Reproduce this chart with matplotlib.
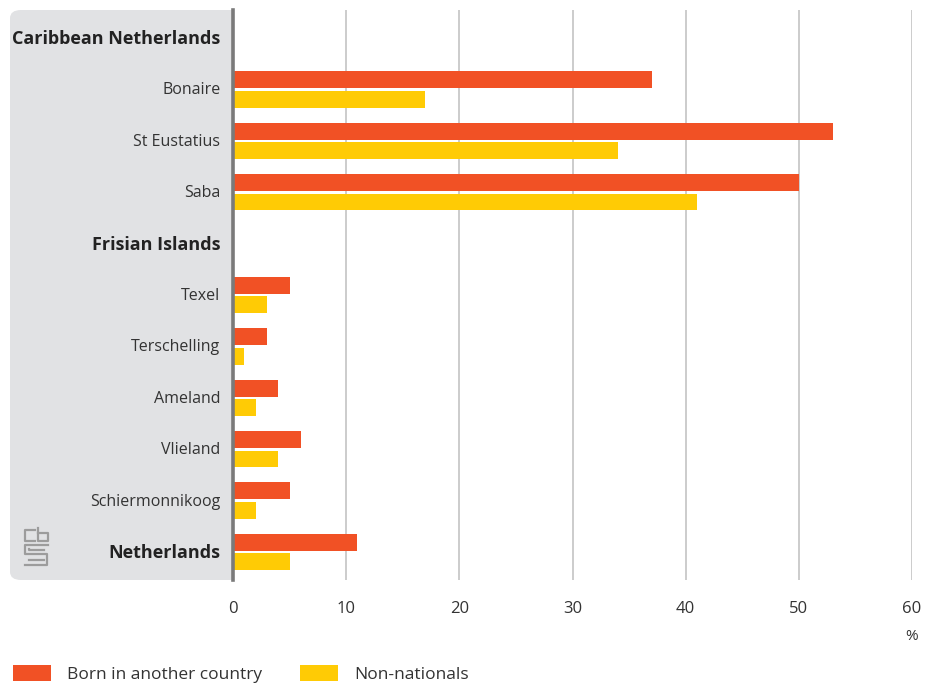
import numpy as np
import matplotlib
matplotlib.use('Agg')
import matplotlib.pyplot as plt
from matplotlib.patches import FancyBboxPatch, Rectangle
from matplotlib.lines import Line2D

plt.rcParams['font.family'] = ['Open Sans', 'DejaVu Sans']

# donnees : part (%) nes a l'etranger / non-nationaux
regions = ['Caribbean Netherlands', 'Bonaire', 'St Eustatius', 'Saba',
           'Frisian Islands', 'Texel', 'Terschelling', 'Ameland', 'Vlieland',
           'Schiermonnikoog', 'Netherlands']
groupes = ['Caribbean Netherlands', 'Frisian Islands', 'Netherlands']
born_abroad = [np.nan, 37, 53, 50, np.nan, 5, 3, 4, 6, 5, 11]
non_nationals = [np.nan, 17, 34, 41, np.nan, 3, 1, 2, 4, 2, 5]
xticks = [0, 10, 20, 30, 40, 50, 60]

rouge = '#F15125'
jaune = '#FFCB05'
gris_panneau = '#E1E2E4'

W, H = 925, 685
fig = plt.figure(figsize=(W / 100, H / 100), dpi=100)

def fx(px):
    return px / W

def fy(py):
    return 1 - py / H

# axe principal : x de 233 a 912 px, y de 10 a 580 px
ax = fig.add_axes([fx(233), fy(580), fx(912) - fx(233), fy(10) - fy(580)])
ax.set_facecolor('none')

# panneau gris derriere les etiquettes
fig.patches.append(FancyBboxPatch((fx(10), fy(580)), fx(233) - fx(10), fy(10) - fy(580),
                                  boxstyle='round,pad=0,rounding_size=0.012',
                                  transform=fig.transFigure, facecolor=gris_panneau,
                                  edgecolor='none', zorder=-2))
fig.patches.append(Rectangle((fx(200), fy(580)), fx(233) - fx(200), fy(10) - fy(580),
                             transform=fig.transFigure, facecolor=gris_panneau,
                             edgecolor='none', zorder=-2))

y = np.arange(len(regions))
h = 0.33
ax.barh(y - 0.17, born_abroad, height=h, color=rouge, label='Born in another country', zorder=3)
ax.barh(y + 0.21, non_nationals, height=h, color=jaune, label='Non-nationals', zorder=3)

ax.set_xlim(0, 60)
ax.set_ylim((580 - 37) / 51.4, (10 - 37) / 51.4)
ax.set_xticks(xticks)
ax.set_yticks(y)
ax.set_yticklabels(regions)
for lab in ax.get_yticklabels():
    lab.set_color('#333333')
    if lab.get_text() in groupes:
        lab.set_fontweight('bold')
        lab.set_fontsize(13)
        lab.set_color('#222222')
    else:
        lab.set_fontsize(11.5)

ax.tick_params(axis='x', length=0, pad=15, labelsize=12, labelcolor='#333333')
ax.tick_params(axis='y', length=0, pad=9)
ax.grid(axis='x', color='#c4c4c4', linewidth=1.2, zorder=0)
for s in ['top', 'right', 'bottom']:
    ax.spines[s].set_visible(False)
ax.spines['left'].set_color('#7a7a7a')
ax.spines['left'].set_linewidth(2.6)
ax.spines['left'].set_zorder(4)

fig.text(fx(912), fy(636), '%', ha='center', va='center', fontsize=11, color='#333333')

# logo cbs
gris_logo = '#9c9c9c'
traits = [
    ([35, 25, 25, 35], [530, 530, 541, 541]),
    ([38, 38, 48, 48, 38], [528, 541, 541, 533, 533]),
    ([48, 25, 25, 47, 47, 25], [545, 545, 554, 554, 565, 565]),
    ([29, 29, 44], [549, 550, 550]),
    ([29, 44], [560, 560]),
]
for xs, ys in traits:
    fig.add_artist(Line2D([fx(v) for v in xs], [fy(v) for v in ys],
                          transform=fig.transFigure, color=gris_logo, linewidth=1.6))

fig.legend(loc='lower left', bbox_to_anchor=(fx(13), fy(683)), ncol=2, frameon=False,
           fontsize=12.5, handlelength=2.2, handleheight=1.0, handletextpad=0.9,
           columnspacing=2.2, borderpad=0, borderaxespad=0, labelcolor='#333333')

fig.savefig('out.png', dpi=100)
